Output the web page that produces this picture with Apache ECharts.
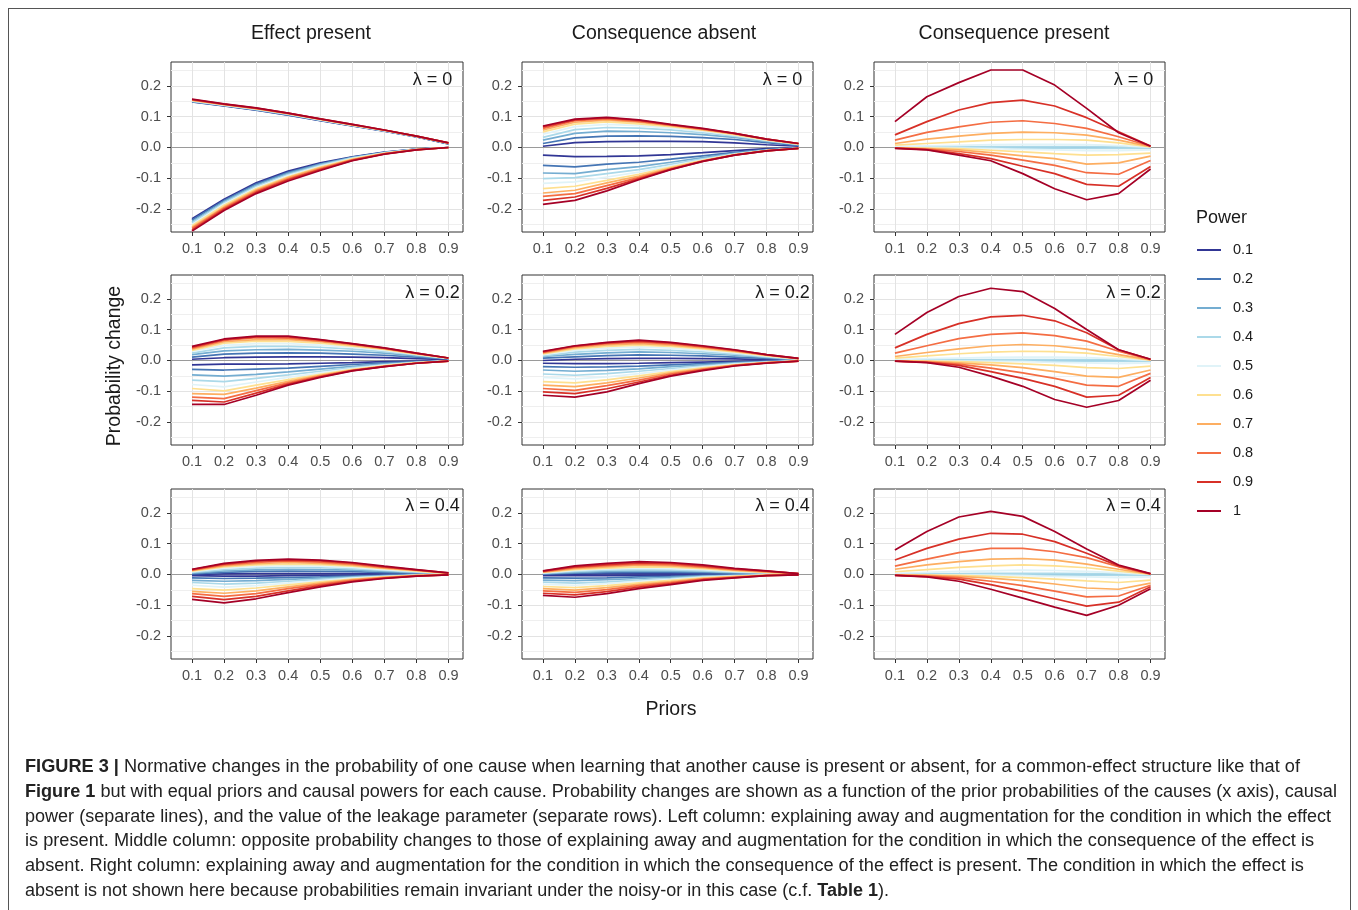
<!DOCTYPE html>
<html>
<head>
<meta charset="utf-8">
<script src="https://cdn.jsdelivr.net/npm/echarts@6/dist/echarts.min.js"></script>
<style>
  html, body { margin:0; padding:0; background:#fff; }
  #wrap { position:relative; width:1358px; height:910px; overflow:hidden; background:#fff; }
  #chart { position:absolute; left:0; top:0; width:1358px; height:910px; }
  #frame { position:absolute; left:8px; top:8px; width:1343px; height:960px; border:1px solid #555; box-sizing:border-box; pointer-events:none; }
  .cap { position:absolute; left:25px; white-space:nowrap; font-family:"Liberation Sans Narrow","Liberation Sans",Arial,sans-serif; font-size:17.5px; color:#222; transform-origin:0 50%; line-height:20px; }
  .cap b { font-weight:bold; }
</style>
</head>
<body>
<div id="wrap">
  <div id="chart"></div>
  <div id="frame"></div>
  <div id="caption"></div>
</div>
<script>
// ---------------- DATA ----------------
const priors = [0.1, 0.2, 0.3, 0.4, 0.5, 0.6, 0.7, 0.8, 0.9];
const powers = ['0.1', '0.2', '0.3', '0.4', '0.5', '0.6', '0.7', '0.8', '0.9', '1'];
const xTicks = [0.1, 0.2, 0.3, 0.4, 0.5, 0.6, 0.7, 0.8, 0.9];
const yTicks = [-0.2, -0.1, 0.0, 0.1, 0.2];
const yMinor = [-0.25, -0.15, -0.05, 0.05, 0.15, 0.25];
const zeroRef = 0;
const columnTitles = ['Effect present', 'Consequence absent', 'Consequence present'];
const lambdaLabels = ['λ = 0', 'λ = 0.2', 'λ = 0.4'];
// Each matrix: rows = priors 0.1..0.9, columns = powers 0.1..1

// Effect present, lambda = 0
const epL0Up = [
  [0.148,0.149,0.150,0.151,0.152,0.153,0.154,0.155,0.156,0.157],
  [0.135,0.136,0.137,0.138,0.138,0.139,0.140,0.140,0.141,0.142],
  [0.121,0.122,0.123,0.124,0.125,0.126,0.126,0.127,0.128,0.129],
  [0.105,0.106,0.107,0.108,0.109,0.110,0.110,0.111,0.112,0.112],
  [0.087,0.088,0.089,0.090,0.090,0.091,0.092,0.092,0.093,0.093],
  [0.070,0.071,0.072,0.072,0.073,0.073,0.074,0.074,0.075,0.075],
  [0.053,0.054,0.054,0.055,0.055,0.056,0.056,0.056,0.057,0.057],
  [0.034,0.035,0.035,0.036,0.036,0.036,0.037,0.037,0.037,0.037],
  [0.012,0.012,0.013,0.013,0.014,0.014,0.014,0.015,0.015,0.015]
];
const epL0Down = [
  [-0.232,-0.236,-0.241,-0.245,-0.250,-0.254,-0.259,-0.263,-0.268,-0.272],
  [-0.168,-0.172,-0.176,-0.180,-0.184,-0.188,-0.193,-0.197,-0.201,-0.205],
  [-0.115,-0.119,-0.123,-0.127,-0.131,-0.134,-0.138,-0.142,-0.146,-0.150],
  [-0.077,-0.081,-0.084,-0.088,-0.091,-0.095,-0.098,-0.102,-0.105,-0.109],
  [-0.050,-0.053,-0.055,-0.058,-0.061,-0.064,-0.066,-0.069,-0.072,-0.075],
  [-0.030,-0.031,-0.033,-0.034,-0.036,-0.037,-0.039,-0.040,-0.042,-0.043],
  [-0.015,-0.016,-0.017,-0.017,-0.018,-0.019,-0.020,-0.021,-0.021,-0.022],
  [-0.005,-0.005,-0.006,-0.006,-0.006,-0.007,-0.007,-0.007,-0.008,-0.008],
  [0,0,0,0,0,0,0,0,0,0]
];
// Consequence absent, lambda = 0
const caL0Up = [
  [0.004,0.013,0.024,0.033,0.043,0.051,0.057,0.062,0.067,0.070],
  [0.016,0.031,0.046,0.058,0.068,0.076,0.082,0.087,0.090,0.092],
  [0.019,0.037,0.053,0.065,0.075,0.083,0.089,0.093,0.096,0.098],
  [0.020,0.038,0.052,0.063,0.071,0.077,0.082,0.085,0.088,0.090],
  [0.020,0.036,0.048,0.057,0.063,0.068,0.071,0.073,0.074,0.075],
  [0.019,0.032,0.042,0.048,0.053,0.056,0.058,0.060,0.061,0.062],
  [0.015,0.026,0.033,0.037,0.040,0.042,0.044,0.045,0.046,0.046],
  [0.009,0.016,0.020,0.022,0.024,0.025,0.026,0.027,0.027,0.027],
  [0.004,0.007,0.009,0.010,0.011,0.012,0.012,0.013,0.013,0.013]
];
const caL0Down = [
  [-0.025,-0.058,-0.083,-0.101,-0.117,-0.134,-0.148,-0.159,-0.172,-0.185],
  [-0.030,-0.063,-0.085,-0.098,-0.112,-0.126,-0.139,-0.150,-0.161,-0.172],
  [-0.029,-0.054,-0.072,-0.085,-0.096,-0.107,-0.115,-0.124,-0.133,-0.141],
  [-0.027,-0.048,-0.062,-0.072,-0.080,-0.087,-0.093,-0.098,-0.102,-0.105],
  [-0.023,-0.038,-0.048,-0.055,-0.060,-0.064,-0.067,-0.069,-0.071,-0.072],
  [-0.017,-0.027,-0.033,-0.037,-0.040,-0.042,-0.043,-0.044,-0.045,-0.045],
  [-0.010,-0.016,-0.019,-0.021,-0.022,-0.023,-0.024,-0.024,-0.025,-0.025],
  [-0.004,-0.007,-0.008,-0.009,-0.010,-0.010,-0.010,-0.011,-0.011,-0.011],
  [-0.001,-0.002,-0.002,-0.002,-0.003,-0.003,-0.003,-0.003,-0.003,-0.003]
];
// Consequence present, lambda = 0
const cpL0Up = [
  [0,0,0,0.001,0.003,0.008,0.013,0.024,0.041,0.084],
  [0,0,0.001,0.002,0.005,0.013,0.027,0.049,0.084,0.165],
  [0,0,0.001,0.002,0.007,0.018,0.037,0.067,0.122,0.211],
  [0,0,0.001,0.003,0.009,0.024,0.046,0.082,0.146,0.252],
  [0,0,0.001,0.003,0.010,0.026,0.050,0.087,0.154,0.252],
  [0,0,0.001,0.003,0.010,0.026,0.048,0.078,0.135,0.203],
  [0,0,0.001,0.003,0.009,0.024,0.040,0.062,0.097,0.127],
  [0,0,0.001,0.002,0.006,0.015,0.024,0.035,0.051,0.048],
  [0,0,0,0,0.001,0.002,0.003,0.004,0.005,0.004]
];
const cpL0Down = [
  [0,0,0,0,0,-0.001,-0.001,-0.002,-0.002,-0.003],
  [0,0,0,0,-0.001,-0.002,-0.004,-0.005,-0.007,-0.008],
  [0,0,0,-0.001,-0.002,-0.004,-0.008,-0.013,-0.020,-0.025],
  [0,0,0,-0.001,-0.004,-0.009,-0.017,-0.025,-0.036,-0.043],
  [0,0,0,-0.002,-0.006,-0.014,-0.027,-0.041,-0.061,-0.085],
  [0,0,0,-0.002,-0.008,-0.020,-0.036,-0.058,-0.085,-0.134],
  [0,0,0,-0.003,-0.010,-0.025,-0.054,-0.082,-0.120,-0.170],
  [0,0,0,-0.003,-0.010,-0.023,-0.050,-0.087,-0.126,-0.150],
  [0,0,0,-0.003,-0.008,-0.018,-0.028,-0.042,-0.062,-0.070]
];
// Effect present, lambda = 0.2
const epL2Up = [
  [0.004,0.011,0.019,0.024,0.030,0.033,0.037,0.040,0.043,0.046],
  [0.009,0.021,0.031,0.041,0.049,0.056,0.061,0.065,0.068,0.070],
  [0.011,0.024,0.035,0.046,0.055,0.063,0.068,0.074,0.077,0.079],
  [0.012,0.025,0.036,0.046,0.055,0.062,0.068,0.073,0.077,0.079],
  [0.012,0.024,0.034,0.043,0.050,0.056,0.061,0.064,0.067,0.068],
  [0.011,0.021,0.030,0.037,0.043,0.047,0.050,0.053,0.054,0.055],
  [0.009,0.017,0.024,0.029,0.033,0.036,0.038,0.039,0.040,0.041],
  [0.006,0.011,0.015,0.018,0.020,0.021,0.022,0.023,0.024,0.024],
  [0.003,0.005,0.006,0.007,0.007,0.008,0.008,0.008,0.008,0.008]
];
const epL2Down = [
  [-0.014,-0.029,-0.047,-0.064,-0.078,-0.091,-0.108,-0.119,-0.130,-0.143],
  [-0.012,-0.031,-0.051,-0.069,-0.086,-0.099,-0.110,-0.124,-0.135,-0.143],
  [-0.012,-0.028,-0.045,-0.058,-0.070,-0.080,-0.090,-0.098,-0.106,-0.113],
  [-0.011,-0.025,-0.037,-0.047,-0.055,-0.062,-0.068,-0.073,-0.077,-0.080],
  [-0.009,-0.019,-0.028,-0.035,-0.040,-0.045,-0.048,-0.051,-0.053,-0.055],
  [-0.007,-0.013,-0.019,-0.023,-0.026,-0.029,-0.031,-0.032,-0.033,-0.034],
  [-0.004,-0.008,-0.011,-0.014,-0.015,-0.017,-0.018,-0.019,-0.020,-0.020],
  [-0.002,-0.004,-0.005,-0.006,-0.007,-0.008,-0.008,-0.009,-0.009,-0.009],
  [0,-0.001,-0.001,-0.001,-0.001,-0.002,-0.002,-0.002,-0.002,-0.002]
];
// Consequence absent, lambda = 0.2
const caL2Up = [
  [0.000,0.008,0.013,0.015,0.019,0.021,0.024,0.026,0.028,0.030],
  [0.004,0.012,0.020,0.027,0.033,0.038,0.042,0.045,0.047,0.048],
  [0.006,0.016,0.025,0.033,0.040,0.046,0.051,0.055,0.057,0.059],
  [0.007,0.018,0.028,0.036,0.044,0.050,0.055,0.060,0.063,0.066],
  [0.007,0.017,0.026,0.033,0.040,0.046,0.050,0.054,0.057,0.059],
  [0.006,0.015,0.022,0.028,0.033,0.038,0.041,0.044,0.046,0.048],
  [0.005,0.011,0.017,0.021,0.025,0.028,0.030,0.032,0.034,0.035],
  [0.003,0.007,0.010,0.012,0.014,0.016,0.017,0.018,0.019,0.019],
  [0.001,0.002,0.003,0.004,0.005,0.005,0.006,0.006,0.007,0.007]
];
const caL2Down = [
  [-0.009,-0.020,-0.031,-0.044,-0.055,-0.069,-0.080,-0.091,-0.102,-0.113],
  [-0.010,-0.022,-0.035,-0.048,-0.060,-0.073,-0.085,-0.097,-0.108,-0.119],
  [-0.010,-0.021,-0.032,-0.043,-0.053,-0.063,-0.073,-0.082,-0.092,-0.102],
  [-0.009,-0.018,-0.027,-0.035,-0.043,-0.050,-0.057,-0.064,-0.070,-0.075],
  [-0.007,-0.014,-0.020,-0.026,-0.031,-0.036,-0.040,-0.044,-0.048,-0.051],
  [-0.005,-0.010,-0.014,-0.018,-0.021,-0.024,-0.027,-0.029,-0.031,-0.033],
  [-0.003,-0.006,-0.008,-0.010,-0.012,-0.014,-0.015,-0.016,-0.017,-0.018],
  [-0.001,-0.003,-0.004,-0.005,-0.006,-0.007,-0.007,-0.008,-0.008,-0.009],
  [0,0,-0.001,-0.001,-0.001,-0.001,-0.002,-0.002,-0.002,-0.002]
];
// Consequence present, lambda = 0.2
const cpL2Up = [
  [0,0,0,0.001,0.003,0.008,0.013,0.024,0.041,0.085],
  [0,0,0,0.002,0.006,0.015,0.026,0.048,0.085,0.156],
  [0,0,0.001,0.002,0.008,0.022,0.038,0.071,0.120,0.208],
  [0,0,0.001,0.003,0.010,0.027,0.048,0.085,0.142,0.235],
  [0,0,0.001,0.003,0.011,0.030,0.052,0.090,0.147,0.224],
  [0,0,0.001,0.003,0.011,0.029,0.048,0.081,0.129,0.169],
  [0,0,0.001,0.003,0.009,0.024,0.037,0.063,0.090,0.101],
  [0,0,0,0.002,0.005,0.013,0.019,0.030,0.035,0.035],
  [0,0,0,0,0,0.001,0.002,0.003,0.004,0.004]
];
const cpL2Down = [
  [0,0,0,0,0,-0.001,-0.001,-0.002,-0.002,-0.002],
  [0,0,0,0,-0.001,-0.002,-0.003,-0.005,-0.006,-0.007],
  [0,0,0,-0.001,-0.002,-0.004,-0.008,-0.012,-0.016,-0.022],
  [0,0,0,-0.001,-0.003,-0.007,-0.014,-0.025,-0.036,-0.051],
  [0,0,0,-0.001,-0.004,-0.011,-0.023,-0.040,-0.058,-0.084],
  [0,0,0,-0.002,-0.006,-0.016,-0.036,-0.058,-0.084,-0.127],
  [0,0,0,-0.002,-0.008,-0.023,-0.051,-0.080,-0.119,-0.152],
  [0,0,0,-0.003,-0.010,-0.026,-0.055,-0.084,-0.113,-0.130],
  [0,0,0,-0.003,-0.008,-0.018,-0.031,-0.042,-0.055,-0.064]
];
// Effect present, lambda = 0.4
const epL4Up = [
  [0.000,0.002,0.004,0.007,0.009,0.011,0.013,0.014,0.016,0.017],
  [0.002,0.007,0.012,0.016,0.021,0.025,0.028,0.031,0.034,0.036],
  [0.003,0.010,0.015,0.021,0.026,0.031,0.035,0.039,0.043,0.046],
  [0.003,0.011,0.017,0.023,0.028,0.034,0.039,0.044,0.047,0.050],
  [0.003,0.010,0.016,0.022,0.027,0.032,0.036,0.040,0.044,0.047],
  [0.003,0.009,0.014,0.019,0.023,0.027,0.030,0.034,0.037,0.039],
  [0.002,0.006,0.010,0.013,0.016,0.019,0.021,0.023,0.025,0.027],
  [0.001,0.004,0.006,0.008,0.010,0.011,0.013,0.014,0.015,0.016],
  [0,0.001,0.002,0.002,0.003,0.003,0.004,0.004,0.005,0.005]
];
const epL4Down = [
  [-0.004,-0.011,-0.019,-0.026,-0.035,-0.046,-0.055,-0.062,-0.071,-0.081],
  [-0.005,-0.013,-0.022,-0.031,-0.041,-0.051,-0.061,-0.071,-0.082,-0.092],
  [-0.005,-0.012,-0.020,-0.028,-0.036,-0.044,-0.053,-0.062,-0.071,-0.079],
  [-0.004,-0.010,-0.016,-0.022,-0.028,-0.034,-0.040,-0.046,-0.053,-0.059],
  [-0.003,-0.008,-0.012,-0.016,-0.020,-0.024,-0.028,-0.032,-0.036,-0.040],
  [-0.002,-0.005,-0.008,-0.010,-0.012,-0.015,-0.017,-0.019,-0.022,-0.024],
  [-0.001,-0.003,-0.004,-0.006,-0.007,-0.008,-0.009,-0.011,-0.012,-0.013],
  [0,-0.001,-0.002,-0.002,-0.003,-0.003,-0.004,-0.004,-0.005,-0.005],
  [0,0,0,0,0,0,-0.001,-0.001,-0.001,-0.001]
];
// Consequence absent, lambda = 0.4
const caL4Up = [
  [0,0.001,0.003,0.004,0.005,0.007,0.008,0.009,0.011,0.012],
  [0.001,0.004,0.007,0.010,0.013,0.016,0.019,0.022,0.025,0.028],
  [0.002,0.006,0.010,0.014,0.018,0.021,0.025,0.029,0.032,0.036],
  [0.002,0.007,0.012,0.016,0.021,0.025,0.030,0.034,0.038,0.042],
  [0.002,0.007,0.011,0.015,0.019,0.024,0.028,0.032,0.036,0.039],
  [0.002,0.006,0.009,0.012,0.016,0.019,0.022,0.025,0.028,0.031],
  [0.001,0.004,0.006,0.008,0.010,0.012,0.014,0.016,0.018,0.020],
  [0.001,0.002,0.004,0.005,0.006,0.007,0.008,0.010,0.011,0.012],
  [0,0.001,0.001,0.001,0.002,0.002,0.002,0.003,0.003,0.003]
];
const caL4Down = [
  [-0.004,-0.011,-0.018,-0.025,-0.032,-0.039,-0.046,-0.053,-0.061,-0.068],
  [-0.004,-0.012,-0.020,-0.028,-0.035,-0.043,-0.051,-0.058,-0.066,-0.074],
  [-0.004,-0.011,-0.017,-0.024,-0.030,-0.036,-0.043,-0.049,-0.056,-0.062],
  [-0.003,-0.008,-0.013,-0.018,-0.022,-0.027,-0.032,-0.036,-0.041,-0.046],
  [-0.002,-0.006,-0.009,-0.013,-0.016,-0.019,-0.023,-0.026,-0.030,-0.033],
  [-0.001,-0.003,-0.005,-0.007,-0.009,-0.011,-0.013,-0.015,-0.017,-0.019],
  [-0.001,-0.002,-0.003,-0.004,-0.005,-0.006,-0.007,-0.009,-0.010,-0.011],
  [0,-0.001,-0.001,-0.002,-0.002,-0.002,-0.003,-0.003,-0.004,-0.004],
  [0,0,0,0,0,0,0,-0.001,-0.001,-0.001]
];
// Consequence present, lambda = 0.4
const cpL4Up = [
  [0,0,0,0.001,0.004,0.009,0.017,0.027,0.047,0.080],
  [0,0,0.001,0.002,0.007,0.016,0.031,0.050,0.085,0.140],
  [0,0,0.001,0.003,0.010,0.023,0.042,0.071,0.115,0.187],
  [0,0,0.001,0.004,0.012,0.028,0.050,0.085,0.134,0.205],
  [0,0,0.001,0.004,0.014,0.031,0.052,0.085,0.131,0.189],
  [0,0,0.001,0.004,0.013,0.028,0.047,0.074,0.107,0.140],
  [0,0,0.001,0.003,0.010,0.022,0.034,0.055,0.069,0.083],
  [0,0,0,0.002,0.005,0.011,0.017,0.025,0.028,0.031],
  [0,0,0,0,0,0.001,0.001,0.002,0.002,0.003]
];
const cpL4Down = [
  [0,0,0,0,0,-0.001,-0.001,-0.002,-0.003,-0.003],
  [0,0,0,0,-0.001,-0.002,-0.003,-0.005,-0.007,-0.008],
  [0,0,0,0,-0.001,-0.003,-0.006,-0.010,-0.015,-0.022],
  [0,0,0,-0.001,-0.002,-0.006,-0.012,-0.022,-0.033,-0.048],
  [0,0,0,-0.001,-0.004,-0.010,-0.020,-0.036,-0.055,-0.077],
  [0,0,0,-0.002,-0.006,-0.015,-0.031,-0.054,-0.079,-0.106],
  [0,0,0,-0.002,-0.008,-0.021,-0.044,-0.073,-0.103,-0.133],
  [0,0,0,-0.003,-0.010,-0.026,-0.048,-0.070,-0.090,-0.100],
  [0,0,0,-0.003,-0.008,-0.018,-0.028,-0.035,-0.040,-0.046]
];

// ---------------- STYLE / LAYOUT ----------------
const palette = ['#313695','#4575B4','#74ADD1','#ABD9E9','#E0F3F8','#FEE090','#FDAE61','#F46D43','#D73027','#A50026'];
const FONT = '"Liberation Sans", Arial, sans-serif';
const colLeft = [171, 522, 874];
const colWidth = [292, 291, 291];
const rowTop = [62, 275, 489];
const rowHeight = 170;
const X_MIN = 0.0345, X_MAX = 0.9452;
const Y_MIN = -0.2748, Y_MAX = 0.278;

const panels = [
  [epL0Up, epL0Down], [caL0Up, caL0Down], [cpL0Up, cpL0Down],
  [epL2Up, epL2Down], [caL2Up, caL2Down], [cpL2Up, cpL2Down],
  [epL4Up, epL4Down], [caL4Up, caL4Down], [cpL4Up, cpL4Down]
];

const grids = [], xAxes = [], yAxes = [], series = [], graphics = [];
panels.forEach((pd, i) => {
  const r = Math.floor(i / 3), c = i % 3;
  grids.push({ left: colLeft[c], top: rowTop[r], width: colWidth[c], height: rowHeight,
    show: true, borderColor: '#333', borderWidth: 1, backgroundColor: 'transparent' });
  xAxes.push({ type: 'value', gridIndex: i, min: X_MIN, max: X_MAX, position: 'bottom',
    axisLine: { show: false, onZero: false },
    axisTick: { show: true, length: 4, lineStyle: { color: '#333' }, customValues: xTicks },
    axisLabel: { show: true, customValues: xTicks, formatter: v => v.toFixed(1), color: '#4D4D4D', fontSize: 14.5, fontFamily: FONT, margin: 9 },
    splitLine: { show: true, lineStyle: { color: '#E3E3E3', width: 1 } } });
  yAxes.push({ type: 'value', gridIndex: i, min: Y_MIN, max: Y_MAX, position: 'left',
    axisLine: { show: false, onZero: false },
    axisTick: { show: true, length: 4, lineStyle: { color: '#333' }, customValues: yTicks },
    axisLabel: { show: true, customValues: yTicks, formatter: v => v.toFixed(1), color: '#4D4D4D', fontSize: 14.5, fontFamily: FONT, margin: 10 },
    splitLine: { show: true, lineStyle: { color: '#E3E3E3', width: 1 } } });
});
// minor horizontal grid lines
panels.forEach((pd, i) => {
  yAxes.push({ type: 'value', gridIndex: i, min: Y_MIN, max: Y_MAX, position: 'left',
    axisLine: { show: false, onZero: false }, axisTick: { show: false, customValues: yMinor },
    axisLabel: { show: false, customValues: yMinor },
    splitLine: { show: true, lineStyle: { color: '#EFEFEF', width: 1 } } });
});

panels.forEach((pd, i) => {
  powers.forEach((pw, j) => {
    pd.forEach((mat, b) => {
      const s = {
        type: 'line', name: pw, xAxisIndex: i, yAxisIndex: i,
        data: priors.map((x, k) => [x, mat[k][j]]),
        symbol: 'none', color: palette[j],
        lineStyle: { width: 1.7, color: palette[j] },
        silent: true, animation: false, z: 3
      };
      if (j === 0 && b === 0) {
        s.markLine = { silent: true, symbol: 'none', z: 2, animation: false,
          label: { show: false },
          lineStyle: { color: '#9A9A9A', width: 1, type: 'solid' },
          data: [{ yAxis: zeroRef }] };
      }
      series.push(s);
    });
  });
});

// texts
const colTitleX = [311, 664, 1014];
columnTitles.forEach((t, c) => graphics.push({ type: 'text', x: colTitleX[c], y: 34,
  style: { text: t, fontSize: 19.5, fontFamily: FONT, fill: '#1a1a1a', align: 'center', verticalAlign: 'middle' } }));
const lamX = [432.5, 782.5, 1133.5], lamY = [80, 293, 506];
for (let r = 0; r < 3; r++) for (let c = 0; c < 3; c++) {
  graphics.push({ type: 'text', x: lamX[c], y: lamY[r], z: 10,
    style: { text: lambdaLabels[r], fontSize: 18, fontFamily: FONT, fill: '#1a1a1a', align: 'center', verticalAlign: 'middle' } });
}
graphics.push({ type: 'text', x: 115, y: 366, rotation: Math.PI / 2,
  style: { text: 'Probability change', fontSize: 19.5, fontFamily: FONT, fill: '#1a1a1a', align: 'center', verticalAlign: 'middle' } });
graphics.push({ type: 'text', x: 671, y: 710,
  style: { text: 'Priors', fontSize: 19.5, fontFamily: FONT, fill: '#1a1a1a', align: 'center', verticalAlign: 'middle' } });
graphics.push({ type: 'text', x: 1196, y: 218,
  style: { text: 'Power', fontSize: 18, fontFamily: FONT, fill: '#1a1a1a', align: 'left', verticalAlign: 'middle' } });

const chart = echarts.init(document.getElementById('chart'), null, { renderer: 'canvas' });
chart.setOption({
  animation: false,
  backgroundColor: 'transparent',
  grid: grids, xAxis: xAxes, yAxis: yAxes, series: series, graphic: graphics,
  legend: { data: powers, orient: 'vertical', left: 1192, top: 237, itemWidth: 24, itemHeight: 2,
    itemGap: 13, icon: 'rect', selectedMode: false,
    textStyle: { fontSize: 14.5, fontFamily: FONT, color: '#1a1a1a', lineHeight: 16, padding: [0, 0, 0, 7] } }
});

// ---------------- CAPTION ----------------
const captionLines = [
  '<b>FIGURE 3 |</b> Normative changes in the probability of one cause when learning that another cause is present or absent, for a common-effect structure like that of',
  '<b>Figure 1</b> but with equal priors and causal powers for each cause. Probability changes are shown as a function of the prior probabilities of the causes (x axis), causal',
  'power (separate lines), and the value of the leakage parameter (separate rows). Left column: explaining away and augmentation for the condition in which the effect',
  'is present. Middle column: opposite probability changes to those of explaining away and augmentation for the condition in which the consequence of the effect is',
  'absent. Right column: explaining away and augmentation for the condition in which the consequence of the effect is present. The condition in which the effect is',
  'absent is not shown here because probabilities remain invariant under the noisy-or in this case (c.f. <b>Table 1</b>).'
];
const captionRight = [1300, 1337, 1331, 1314, 1304, 889];
const capTop0 = 756, capStep = 24.8;
const capBox = document.getElementById('caption');
captionLines.forEach((html, i) => {
  const d = document.createElement('div');
  d.className = 'cap';
  d.innerHTML = html;
  d.style.top = (capTop0 + i * capStep) + 'px';
  capBox.appendChild(d);
  const w = d.getBoundingClientRect().width;
  const target = captionRight[i] - 25;
  d.style.transform = 'scaleX(' + (target / w).toFixed(4) + ')';
});
</script>
</body>
</html>
